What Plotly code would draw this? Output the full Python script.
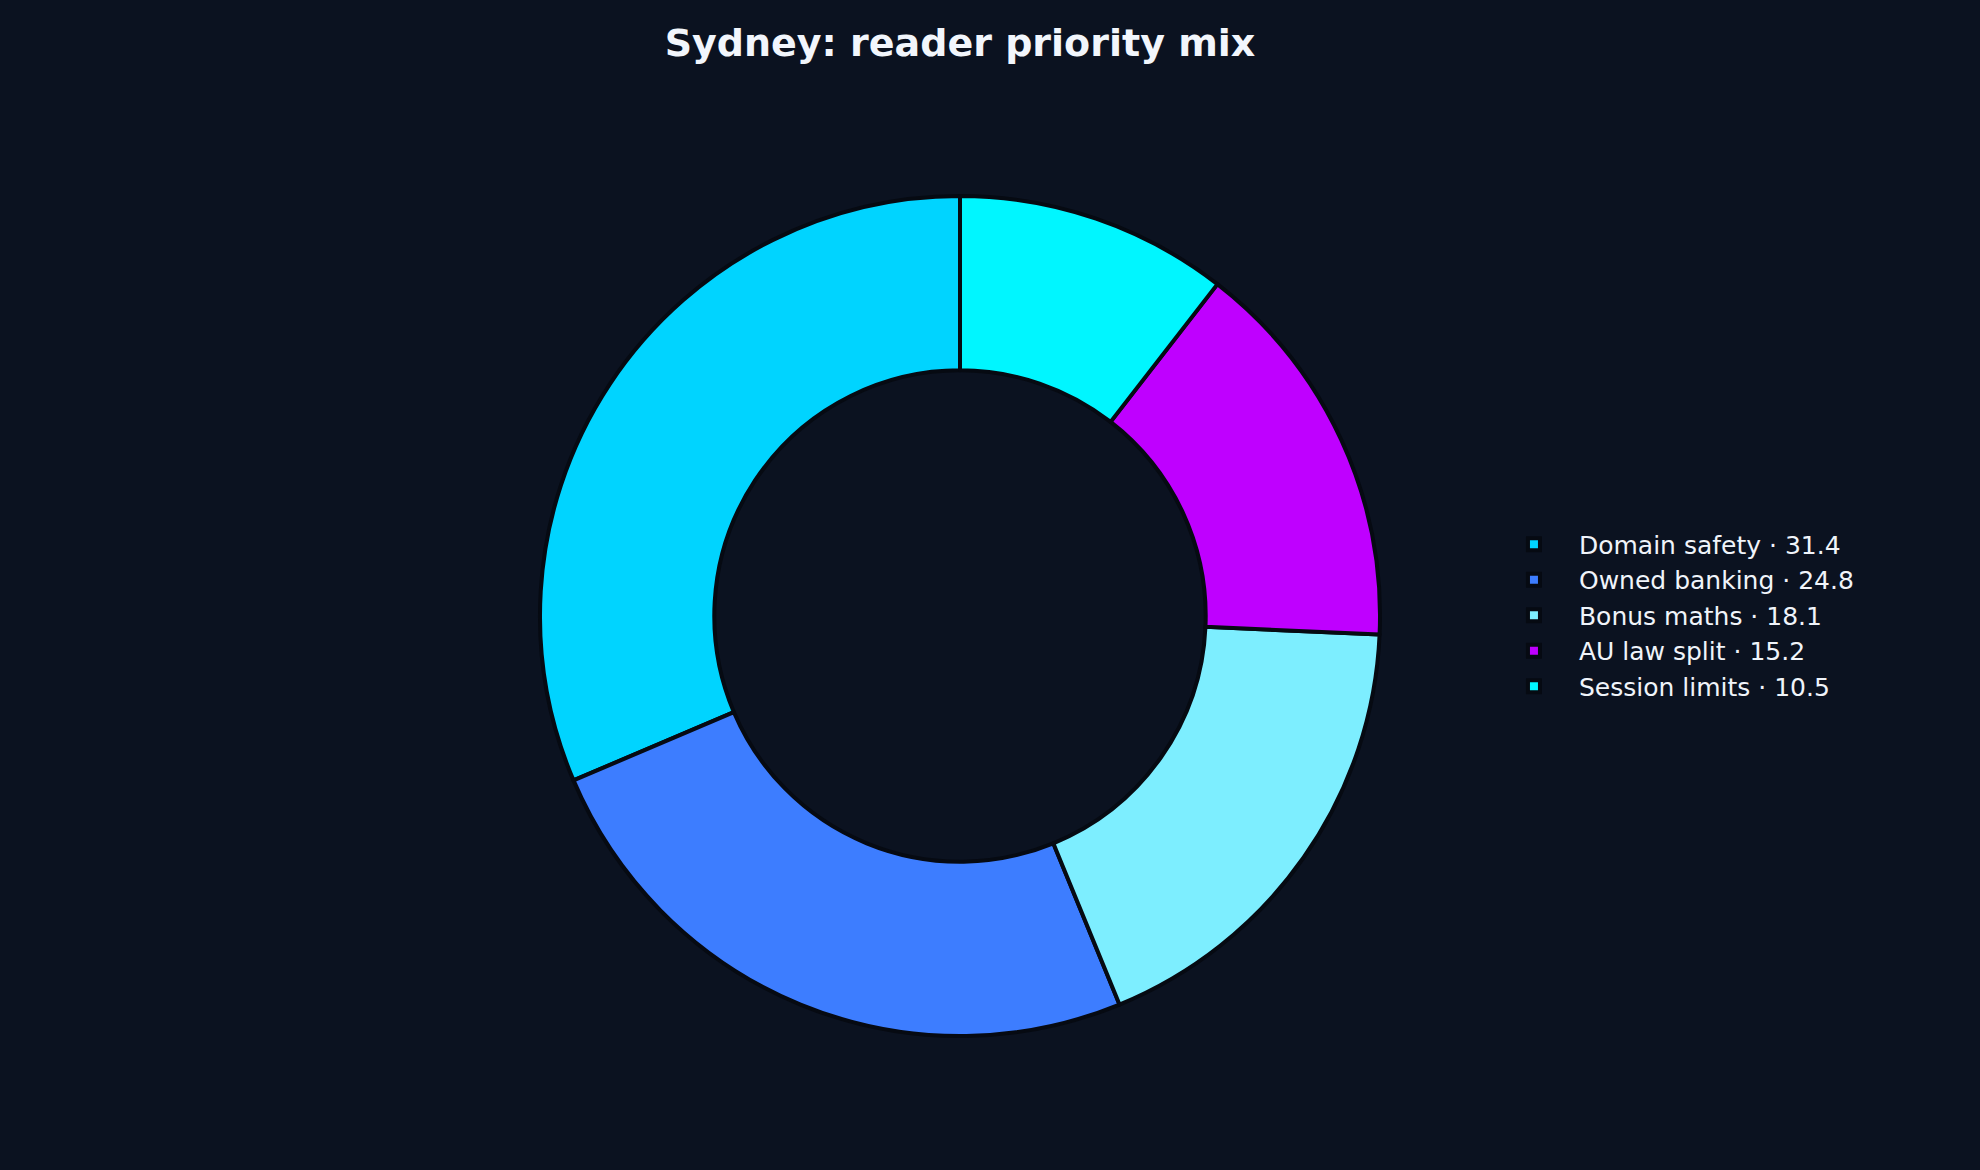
import plotly.graph_objects as go

labels = ["Domain safety", "Owned banking", "Bonus maths", "AU law split", "Session limits"]
values = [31.4, 24.8, 18.1, 15.2, 10.5]
colors = ["#00D4FF", "#3D7DFF", "#7DEEFF", "#BF00FF", "#00F6FF"]

legend_names = [f"{l} · {v}" for l, v in zip(labels, values)]

bg = "#0B1220"

# plotly's counterclockwise pies end the first slice at 12 o'clock,
# so shift back by the first slice to make it start there instead
start_shift = -values[0] / sum(values) * 360

fig = go.Figure(go.Pie(
    labels=legend_names,
    values=values,
    hole=0.585,
    sort=False,
    direction="counterclockwise",
    rotation=start_shift,
    textinfo="none",
    hoverinfo="label+percent",
    marker=dict(colors=colors, line=dict(color="#060A12", width=4)),
    domain=dict(x=[540 / 1980, 1380 / 1980], y=[134 / 1170, 974 / 1170]),
))

fig.update_layout(
    width=1980,
    height=1170,
    paper_bgcolor=bg,
    plot_bgcolor=bg,
    margin=dict(l=0, r=0, t=0, b=0),
    font=dict(family="DejaVu Sans", color="#F0F4FA"),
    title=dict(
        text="<b>Sydney: reader priority mix</b>",
        x=960 / 1980, xanchor="center",
        y=1 - 43 / 1170, yanchor="middle", yref="container",
        font=dict(size=38, family="DejaVu Sans", color="#F2F6FC"),
    ),
    legend=dict(
        x=0.752, xanchor="left",
        y=0.474, yanchor="middle",
        font=dict(size=25, color="#F0F4FA"),
        itemwidth=80,
        bgcolor="rgba(0,0,0,0)",
    ),
    showlegend=True,
)

fig.write_html("out.html", config={"displayModeBar": False},
               post_script="document.body.style.margin='0';")
